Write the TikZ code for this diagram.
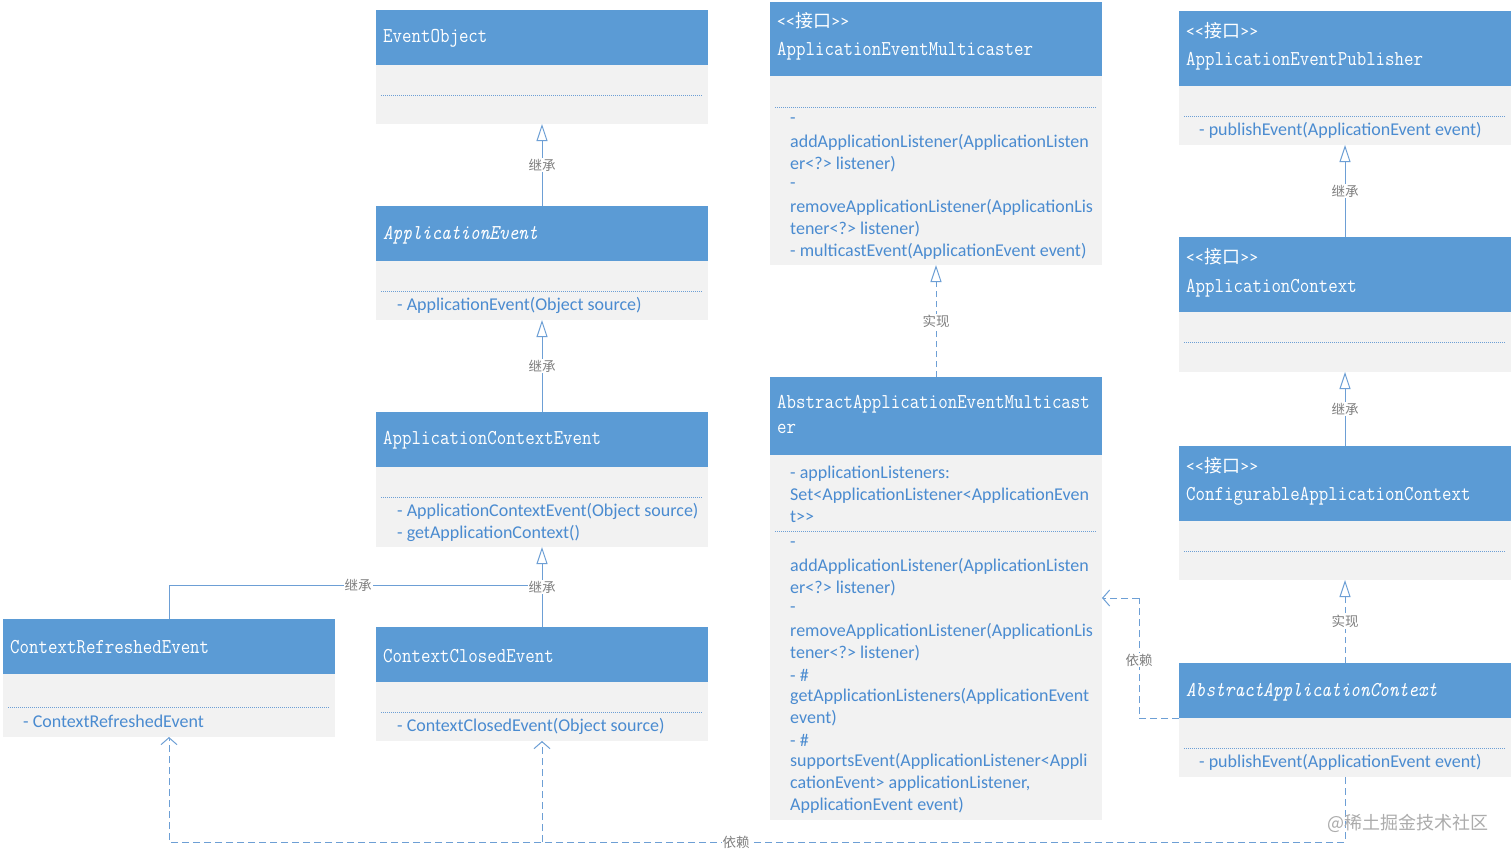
\documentclass[tikz,border=0pt]{standalone}
\usepackage{fontspec}
\usetikzlibrary{arrows.meta}
\newfontfamily\bodyfont[Ligatures=TeXOff]{Carlito}
\newfontfamily\cjkfont{Noto Sans CJK SC}
\definecolor{hdrblue}{HTML}{5B9BD5}
\definecolor{bodygray}{HTML}{F2F2F2}
\definecolor{txtblue}{HTML}{4A8BD0}
\definecolor{lineblue}{HTML}{6D9FD5}
\definecolor{lblgray}{HTML}{7F7F7F}
\newcommand\umlbox[6]{%
  \node[hdr, minimum height=#4pt] (#1h) at (#2,#3) {};
  \node[bodybox, minimum height=#5pt] (#1) at (#1h.south west) {};
  \draw[sep] ({#2+5},#6) -- ({#2+327},#6);
}
\newcommand\iface{{\bodyfont<<}{\cjkfont 接口}{\bodyfont>>}}
\newcommand\tall[1]{\scalebox{1}[1.15]{#1}}
\begin{document}
\begin{tikzpicture}[x=1pt,y=-1pt,
  hdr/.style={fill=hdrblue, draw=none, minimum width=332pt, inner sep=0pt, outer sep=0pt, anchor=north west},
  bodybox/.style={fill=bodygray, draw=none, minimum width=332pt, inner sep=0pt, outer sep=0pt, anchor=north west},
  sep/.style={draw=lineblue, line width=0.6pt, dash pattern=on 1pt off 1pt},
  htext/.style={text=white, font=\ttfamily\fontsize{18.4}{22}\selectfont, anchor=west, inner sep=0pt},
  itext/.style={text=white, font=\bodyfont\fontsize{18}{20}\selectfont, anchor=west, inner sep=0pt},
  mtext/.style={text=txtblue, font=\bodyfont\fontsize{18}{20}\selectfont, anchor=west, inner sep=0pt},
  lbl/.style={text=lblgray, font=\cjkfont\fontsize{13.5}{15}\selectfont, fill=white, inner sep=1pt},
  inh/.style={draw=lineblue, line width=1pt, -{Triangle[open, length=17pt, width=11pt, line width=1pt]}},
  real/.style={inh, dash pattern=on 6pt off 4pt},
  plainline/.style={draw=lineblue, line width=1pt},
  dep/.style={draw=lineblue, line width=1pt, dash pattern=on 7pt off 4pt},
  deptip/.style={-{Straight Barb[length=7pt, width=16pt, line width=1pt]}}
]
\useasboundingbox (0,0) rectangle (1512,857);
\fill[white] (0,0) rectangle (1512,857);

% boxes
\umlbox{eo}{376}{10}{55}{59}{95}
\umlbox{ae}{376}{206}{55}{59}{291}
\umlbox{ace}{376}{412}{55}{80}{497}
\umlbox{cre}{3}{619}{55}{63}{707}
\umlbox{cce}{376}{627}{55}{59}{712}
\umlbox{aem}{770}{2}{74}{189}{107}
\umlbox{aaem}{770}{377}{78}{365}{531}
\umlbox{aep}{1179}{11}{75}{59}{116}
\umlbox{ac}{1179}{237}{75}{60}{342}
\umlbox{cac}{1179}{446}{75}{59}{551}
\umlbox{aac}{1179}{663}{55}{59}{748}

% headers
\node[htext] (t1) at (383,38) {\tall{EventObject}};
\node[htext] (t2) at (383,235) {\tall{\itshape ApplicationEvent}};
\node[htext] (t3) at (383,440) {\tall{ApplicationContextEvent}};
\node[htext] (t4) at (10,647) {\tall{ContextRefreshedEvent}};
\node[htext] (t5) at (383,656) {\tall{ContextClosedEvent}};
\node[itext] (t6a) at (777,21) {\iface};
\node[htext] (t6) at (777,51) {\tall{ApplicationEventMulticaster}};
\node[htext] (t7a) at (777,404) {\tall{AbstractApplicationEventMulticast}};
\node[htext] (t7b) at (777,429) {\tall{er}};
\node[itext] (t8a) at (1186,31) {\iface};
\node[htext] (t8) at (1186,61) {\tall{ApplicationEventPublisher}};
\node[itext] (t9a) at (1186,257) {\iface};
\node[htext] (t9) at (1186,288) {\tall{ApplicationContext}};
\node[itext] (t10a) at (1186,466) {\iface};
\node[htext] (t10) at (1186,496) {\tall{ConfigurableApplicationContext}};
\node[htext] (t11) at (1186,692) {\tall{\itshape AbstractApplicationContext}};

% members
\node[mtext] (m1) at (397,305) {- ApplicationEvent(Object source)};
\node[mtext] (m2) at (397,511) {- ApplicationContextEvent(Object source)};
\node[mtext] (m3) at (397,533) {- getApplicationContext()};
\node[mtext] (m4) at (23,721) {- ContextRefreshedEvent};
\node[mtext] (m5) at (397,726) {- ContextClosedEvent(Object source)};
\node[mtext] (m6) at (1199,130) {- publishEvent(ApplicationEvent event)};
\node[mtext] (m7) at (1199,762) {- publishEvent(ApplicationEvent event)};
\foreach \t [count=\i from 0] in {{-},{addApplicationListener(ApplicationListen},{er<?> listener)},{-},{removeApplicationListener(ApplicationLis},{tener<?> listener)},{- multicastEvent(ApplicationEvent event)}}
  \node[mtext] (ma\i) at (790,{121+21.67*\i}) {\t};
\foreach \t [count=\i from 0] in {{- applicationListeners:},{Set<ApplicationListener<ApplicationEven},{t>>}}
  \node[mtext] (mb\i) at (790,{474+21.67*\i}) {\t};
\foreach \t [count=\i from 0] in {{-},{addApplicationListener(ApplicationListen},{er<?> listener)},{-},{removeApplicationListener(ApplicationLis},{tener<?> listener)},{- \#},{getApplicationListeners(ApplicationEvent},{event)},{- \#},{supportsEvent(ApplicationListener<Appli},{cationEvent> applicationListener,},{ApplicationEvent event)}}
  \node[mtext] (mc\i) at (790,{545+21.67*\i}) {\t};

% inheritance / realization
\draw[inh] (aeh.north) -- node[lbl] {继承} (eo.south);
\draw[inh] (aceh.north) -- node[lbl] {继承} (ae.south);
\coordinate (j1) at (542,585);
\draw[plainline] (creh.north) |- (j1);
\node[lbl] (l1) at (358,585) {继承};
\draw[inh] (cceh.north) -- node[lbl] {继承} (ace.south);
\draw[real] (aaemh.north) -- node[lbl] {实现} (aem.south);
\draw[inh] (ach.north) -- node[lbl] {继承} (aep.south);
\draw[inh] (cach.north) -- node[lbl] {继承} (ac.south);
\draw[real] (aach.north) -- node[lbl] {实现} (cac.south);

% dependencies
\coordinate (d1) at (1139,598);
\draw[dep] (aac.north west) -| (d1);
\draw[dep, deptip] (d1) -- (d1 -| aaem.east);
\node[lbl] (l2) at (1139,660) {依赖};
\coordinate (dbot) at (169,842);
\draw[dep, deptip] (aac.south) |- (dbot) -- (cre.south);
\draw[dep, deptip] (cce.south |- dbot) -- (cce.south);
\node[lbl] (l3) at (736,842) {依赖};

\node[text=gray!65, font=\cjkfont\fontsize{18}{20}\selectfont] (wm) at (1408,823) {@稀土掘金技术社区};
\end{tikzpicture}
\end{document}
